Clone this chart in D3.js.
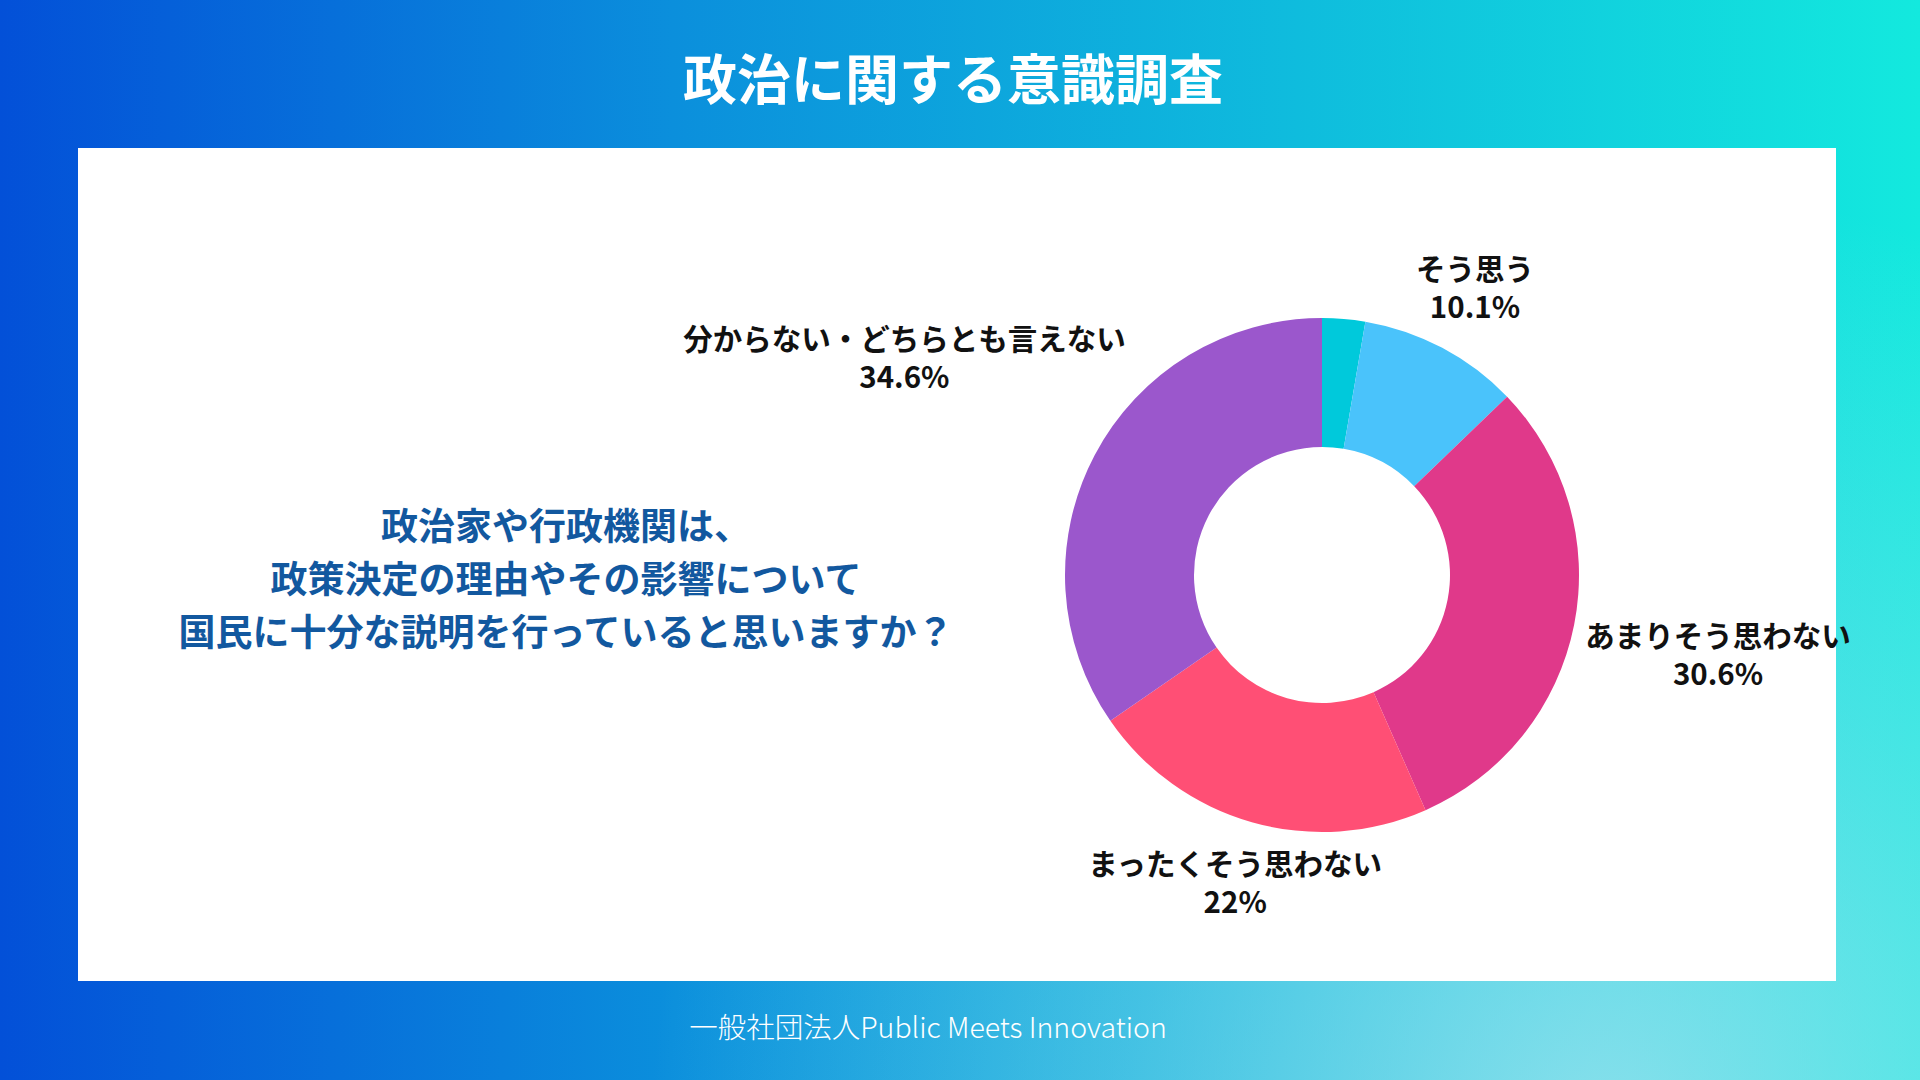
<!DOCTYPE html>
<html>
<head>
<meta charset="utf-8">
<script src="https://cdn.jsdelivr.net/npm/d3@7"></script>
<style>
  html, body { margin: 0; padding: 0; }
  body { width: 1920px; height: 1080px; overflow: hidden; }
  svg { display: block; font-family: "Noto Sans CJK JP", "Noto Sans", sans-serif; }
</style>
</head>
<body>
<div id="chart"></div>
<script>
// survey answers, clockwise from 12 o'clock
var categories = ["とてもそう思う", "そう思う", "あまりそう思わない", "まったくそう思わない", "分からない・どちらとも言えない"];
var values     = [2.7, 10.1, 30.6, 22, 34.6];
var colours    = ["#00c9db", "#4ac3fb", "#e0398a", "#ff4f75", "#9b57cc"];

var title    = "政治に関する意識調査";
var question = ["政治家や行政機関は、", "政策決定の理由やその影響について", "国民に十分な説明を行っていると思いますか？"];
var footer   = "一般社団法人Public Meets Innovation";

var W = 1920, H = 1080;

var svg = d3.select("#chart").append("svg")
    .attr("width", W)
    .attr("height", H);

//Background gradients
var defs = svg.append("defs");
var lg = defs.append("linearGradient")
    .attr("id", "bg")
    .attr("x1", "0%").attr("y1", "0%")
    .attr("x2", "100%").attr("y2", "0%");
lg.append("stop").attr("offset", "0%").attr("stop-color", "#0350d8");
lg.append("stop").attr("offset", "35%").attr("stop-color", "#0b8fdc");
lg.append("stop").attr("offset", "100%").attr("stop-color", "#13e9de");

var rg = defs.append("radialGradient")
    .attr("id", "glow")
    .attr("gradientUnits", "userSpaceOnUse")
    .attr("cx", 1600).attr("cy", 1130).attr("r", 950);
rg.append("stop").attr("offset", "0%").attr("stop-color", "#b0e4f0").attr("stop-opacity", 0.75);
rg.append("stop").attr("offset", "50%").attr("stop-color", "#a8e2f0").attr("stop-opacity", 0.35);
rg.append("stop").attr("offset", "100%").attr("stop-color", "#a8e2f0").attr("stop-opacity", 0);

svg.append("rect").attr("width", W).attr("height", H).attr("fill", "url(#bg)");
svg.append("rect").attr("width", W).attr("height", H).attr("fill", "url(#glow)");

//Title
svg.append("text")
    .attr("x", 953)
    .attr("y", 76)
    .attr("text-anchor", "middle")
    .attr("dominant-baseline", "central")
    .attr("fill", "#ffffff")
    .attr("font-size", 54)
    .attr("font-weight", 700)
    .text(title);

//White panel
svg.append("rect")
    .attr("x", 78).attr("y", 148)
    .attr("width", 1758).attr("height", 833)
    .attr("fill", "#ffffff");

//Footer
svg.append("text")
    .attr("x", 928)
    .attr("y", 1025)
    .attr("text-anchor", "middle")
    .attr("dominant-baseline", "central")
    .attr("fill", "#ffffff")
    .attr("font-size", 28.5)
    .attr("font-weight", 300)
    .text(footer);

//Question on the left
var q = svg.append("text")
    .attr("text-anchor", "middle")
    .attr("fill", "#12589f")
    .attr("font-size", 37)
    .attr("font-weight", 700);
q.selectAll("tspan")
    .data(question)
    .enter().append("tspan")
    .attr("x", 566)
    .attr("y", function(d, i) { return 524 + i * 53; })
    .attr("dominant-baseline", "central")
    .text(function(d) { return d; });

//Donut
var cx = 1322, cy = 575;
var rOuter = 257, rInner = 128;
var rLabel = 266;

var data = categories.map(function(c, i) { return {name: c, value: values[i], colour: colours[i]}; });

var pie = d3.pie()
    .sort(null)
    .value(function(d) { return d.value; });

var arc = d3.arc()
    .innerRadius(rInner)
    .outerRadius(rOuter);

var g = svg.append("g")
    .attr("transform", "translate(" + cx + "," + cy + ")");

var arcs = pie(data);

g.selectAll("path")
    .data(arcs)
    .enter().append("path")
    .attr("d", arc)
    .attr("fill", function(d) { return d.data.colour; });

//Labels: push the label box out along the mid angle until it clears rLabel
function boxDist(x, y, hw, hh) {
    var dx = Math.max(Math.abs(x) - hw, 0);
    var dy = Math.max(Math.abs(y) - hh, 0);
    return Math.sqrt(dx * dx + dy * dy);
}

arcs.forEach(function(d) {
    if (d.data.value < 5) return;   // tiny slice has no label

    var lab = g.append("text")
        .attr("text-anchor", "middle")
        .attr("fill", "#111111")
        .attr("font-size", 29.5)
        .attr("font-weight", 700);
    lab.append("tspan").attr("x", 0).attr("y", 0).text(d.data.name);
    lab.append("tspan").attr("x", 0).attr("y", 38).text(d.data.value + "%");

    var bb = lab.node().getBBox();
    var hw = bb.width / 2, hh = bb.height / 2;
    var a = (d.startAngle + d.endAngle) / 2;
    var ux = Math.sin(a), uy = -Math.cos(a);

    var lo = 0, hi = 1000;
    for (var k = 0; k < 40; k++) {
        var mid = (lo + hi) / 2;
        if (boxDist(mid * ux, mid * uy, hw, hh) < rLabel) lo = mid; else hi = mid;
    }
    var px = lo * ux, py = lo * uy;
    lab.attr("transform", "translate(" + (px - (bb.x + hw)) + "," + (py - (bb.y + hh)) + ")");
});
</script>
</body>
</html>
